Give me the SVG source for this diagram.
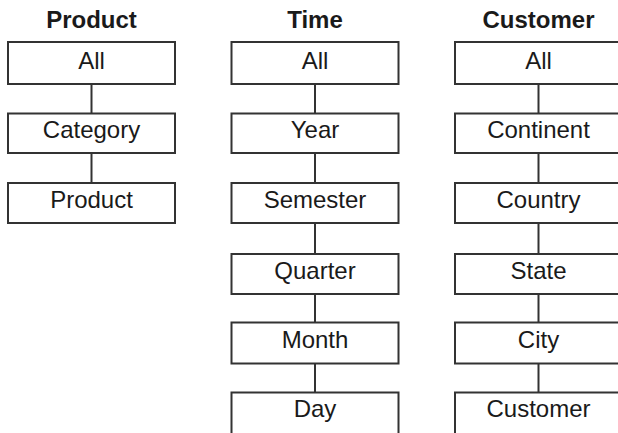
<svg xmlns="http://www.w3.org/2000/svg" width="618" height="433" viewBox="0 0 618 433">
<style>
.box{fill:#fff;stroke:#333;stroke-width:2}
.lbl{font-family:"Liberation Sans",Arial,sans-serif;font-size:24px;fill:#1a1a1a;text-anchor:middle}
.ttl{font-family:"Liberation Sans",Arial,sans-serif;font-size:24px;font-weight:bold;fill:#1a1a1a;text-anchor:middle}
.con{stroke:#333;stroke-width:2;fill:none}
</style>
<rect width="618" height="433" fill="#fff"/>
<g id="titles">
<text class="ttl" x="91.5" y="28">Product</text>
<text class="ttl" x="315" y="28">Time</text>
<text class="ttl" x="538.5" y="28">Customer</text>
</g>
<g id="connectors">
<line class="con" x1="91.5" y1="84" x2="91.5" y2="113.5"/>
<line class="con" x1="91.5" y1="153" x2="91.5" y2="183"/>
<line class="con" x1="315" y1="84" x2="315" y2="113.5"/>
<line class="con" x1="315" y1="153" x2="315" y2="183"/>
<line class="con" x1="315" y1="223" x2="315" y2="254"/>
<line class="con" x1="315" y1="294" x2="315" y2="322.5"/>
<line class="con" x1="315" y1="363.5" x2="315" y2="392.5"/>
<line class="con" x1="538.5" y1="84" x2="538.5" y2="113.5"/>
<line class="con" x1="538.5" y1="153" x2="538.5" y2="183"/>
<line class="con" x1="538.5" y1="223" x2="538.5" y2="254"/>
<line class="con" x1="538.5" y1="294" x2="538.5" y2="322.5"/>
<line class="con" x1="538.5" y1="363.5" x2="538.5" y2="392.5"/>
</g>
<g id="product-all"><rect class="box" x="8" y="42" width="167" height="42"/><text class="lbl" x="91.5" y="69">All</text></g>
<g id="product-category"><rect class="box" x="8" y="113.5" width="167" height="39.5"/><text class="lbl" x="91.5" y="137.5">Category</text></g>
<g id="product-product"><rect class="box" x="8" y="183" width="167" height="40"/><text class="lbl" x="91.5" y="207.5">Product</text></g>

<g id="time-all"><rect class="box" x="231.5" y="42" width="167" height="42"/><text class="lbl" x="315" y="69">All</text></g>
<g id="time-year"><rect class="box" x="231.5" y="113.5" width="167" height="39.5"/><text class="lbl" x="315" y="137.5">Year</text></g>
<g id="time-semester"><rect class="box" x="231.5" y="183" width="167" height="40"/><text class="lbl" x="315" y="207.5">Semester</text></g>
<g id="time-quarter"><rect class="box" x="231.5" y="254" width="167" height="40"/><text class="lbl" x="315" y="278.5">Quarter</text></g>
<g id="time-month"><rect class="box" x="231.5" y="322.5" width="167" height="41"/><text class="lbl" x="315" y="347.5">Month</text></g>
<g id="time-day"><rect class="box" x="231.5" y="392.5" width="167" height="45"/><text class="lbl" x="315" y="417">Day</text></g>

<g id="customer-all"><rect class="box" x="455" y="42" width="167" height="42"/><text class="lbl" x="538.5" y="69">All</text></g>
<g id="customer-continent"><rect class="box" x="455" y="113.5" width="167" height="39.5"/><text class="lbl" x="538.5" y="137.5">Continent</text></g>
<g id="customer-country"><rect class="box" x="455" y="183" width="167" height="40"/><text class="lbl" x="538.5" y="207.5">Country</text></g>
<g id="customer-state"><rect class="box" x="455" y="254" width="167" height="40"/><text class="lbl" x="538.5" y="278.5">State</text></g>
<g id="customer-city"><rect class="box" x="455" y="322.5" width="167" height="41"/><text class="lbl" x="538.5" y="347.5">City</text></g>
<g id="customer-customer"><rect class="box" x="455" y="392.5" width="167" height="45"/><text class="lbl" x="538.5" y="417">Customer</text></g>
</svg>
